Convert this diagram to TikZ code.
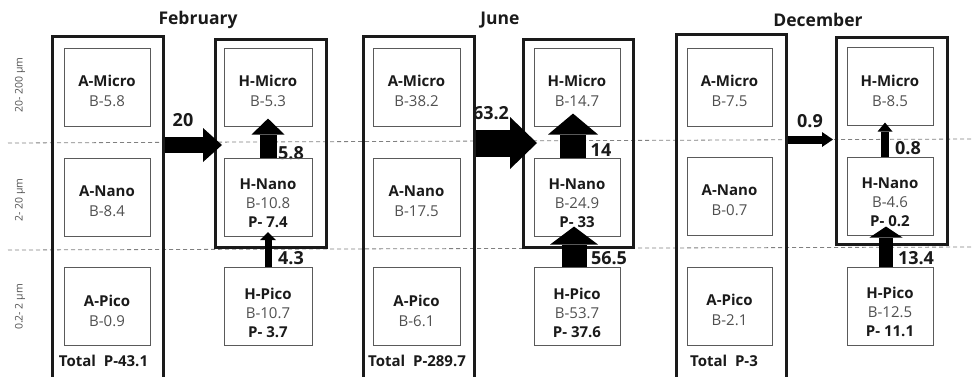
\documentclass[tikz,border=0pt]{standalone}
\usepackage{fontspec}
\setmainfont{Open Sans}
\usetikzlibrary{arrows.meta,calc}
\definecolor{lgray}{HTML}{505050}
\definecolor{bgray}{HTML}{5A5A5A}
\definecolor{dk}{HTML}{1A1A1A}
\tikzset{
 inbox/.style={draw=bgray, line width=0.9pt, minimum width=87pt, minimum height=78pt, inner sep=0pt},
 txt2/.style={align=center, inner sep=0pt, yshift=-4pt, font=\fontsize{15}{20}\selectfont},
 txt3/.style={align=center, inner sep=0pt, yshift=-6pt, font=\fontsize{15}{19}\selectfont},
 outbox/.style={draw=dk, line width=2.6pt, inner sep=0pt, anchor=north west},
 title/.style={font=\fontsize{17.5}{20}\selectfont\bfseries, text=dk},
 num/.style={fill=white, inner sep=1pt, font=\fontsize{18}{20}\selectfont\bfseries, text=dk},
 axis/.style={rotate=90, font=\fontsize{10.5}{12}\selectfont, text=lgray},
 total/.style={font=\fontsize{15}{17}\selectfont\bfseries, text=dk},
 sep/.style={draw=gray, dash pattern=on 4pt off 3pt, line width=0.8pt},
 flow/.style n args={3}{draw=black, line width=#1pt, -{Triangle[width=#2pt,length=#3pt,line width=0pt]}},
}
\newcommand{\nm}[1]{\textcolor{dk}{\textbf{#1}}}
\newcommand{\bv}[1]{\textcolor{lgray}{#1}}
\newcommand{\tot}[1]{Total\hspace{4pt} #1}
\begin{document}
\begin{tikzpicture}[x=1pt,y=-1pt]
\useasboundingbox (0,0) rectangle (973,376);
% size-class separators
\draw[sep] (8,143) -- (973,139);
\draw[sep] (8,250) -- (973,247);
% axis labels
\node[axis] (ax1) at (20,85) {20- 200 µm};
\node[axis] (ax2) at (20,200) {2- 20 µm};
\node[axis] (ax3) at (20,307) {0.2- 2 µm};
% titles
\node[title] (tF) at (198,20) {February};
\node[title] (tJ) at (500,20) {June};
\node[title] (tD) at (818,20) {December};
% flow labels
\node[num] (fL1) at (183,120) {20};
\node[num] (fL2) at (291,153) {5.8};
\node[num] (fL3) at (291,258) {4.3};
\node[num] (jL1) at (491,113) {63.2};
\node[num] (jL2) at (601,150) {14};
\node[num] (jL3) at (609,258) {56.5};
\node[num] (dL1) at (810,121) {0.9};
\node[num] (dL2) at (908,148) {0.8};
\node[num] (dL3) at (916,258) {13.4};
% ---------- February ----------
\node[outbox, minimum width=111pt, minimum height=360pt] (fA) at (51,35) {};
\node[outbox, minimum width=111pt, minimum height=208pt] (fH) at (214,38) {};
\node[inbox, minimum width=86pt] (fAm) at (107,87) {};
\node[inbox, minimum width=86pt] (fAn) at (107,197) {};
\node[inbox, minimum width=86pt] (fAp) at (107,306.5) {};
\node[inbox, minimum width=88pt] (fHm) at (268,87) {};
\node[inbox, minimum width=88pt] (fHn) at (268,197) {};
\node[inbox, minimum width=88pt] (fHp) at (268,306.5) {};
\node[txt2] (fAmT) at (fAm) {\nm{A-Micro}\\\bv{B-5.8}};
\node[txt2] (fAnT) at (fAn) {\nm{A-Nano}\\\bv{B-8.4}};
\node[txt2] (fApT) at (fAp) {\nm{A-Pico}\\\bv{B-0.9}};
\node[txt2] (fHmT) at (fHm) {\nm{H-Micro}\\\bv{B-5.3}};
\node[txt3] (fHnT) at (fHn) {\nm{H-Nano}\\\bv{B-10.8}\\\nm{P- 7.4}};
\node[txt3] (fHpT) at (fHp) {\nm{H-Pico}\\\bv{B-10.7}\\\nm{P- 3.7}};
\node[total] (fT) at (103.5,361) {\tot{P-43.1}};
% ---------- June ----------
\node[outbox, minimum width=111pt, minimum height=360pt] (jA) at (362,35) {};
\node[outbox, minimum width=110pt, minimum height=208pt] (jH) at (522,38) {};
\node[inbox] (jAm) at (416.5,87) {};
\node[inbox] (jAn) at (416.5,197) {};
\node[inbox] (jAp) at (416.5,306.5) {};
\node[inbox, minimum width=86pt] (jHm) at (577,87) {};
\node[inbox, minimum width=86pt] (jHn) at (577,197) {};
\node[inbox, minimum width=86pt] (jHp) at (577,306.5) {};
\node[txt2] (jAmT) at (jAm) {\nm{A-Micro}\\\bv{B-38.2}};
\node[txt2] (jAnT) at (jAn) {\nm{A-Nano}\\\bv{B-17.5}};
\node[txt2] (jApT) at (jAp) {\nm{A-Pico}\\\bv{B-6.1}};
\node[txt2] (jHmT) at (jHm) {\nm{H-Micro}\\\bv{B-14.7}};
\node[txt3] (jHnT) at (jHn) {\nm{H-Nano}\\\bv{B-24.9}\\\nm{P- 33}};
\node[txt3] (jHpT) at (jHp) {\nm{H-Pico}\\\bv{B-53.7}\\\nm{P- 37.6}};
\node[total] (jT) at (417,361) {\tot{P-289.7}};
% ---------- December ----------
\node[outbox, minimum width=110pt, minimum height=360pt] (dA) at (675,33) {};
\node[outbox, minimum width=111pt, minimum height=207pt] (dH) at (835,36) {};
\node[inbox, minimum width=85pt] (dAm) at (729.5,87) {};
\node[inbox, minimum width=85pt] (dAn) at (729.5,196) {};
\node[inbox, minimum width=85pt] (dAp) at (729.5,306) {};
\node[inbox, minimum width=86pt] (dHm) at (890,86.5) {};
\node[inbox, minimum width=86pt] (dHn) at (890,196) {};
\node[inbox, minimum width=86pt] (dHp) at (890,306) {};
\node[txt2] (dAmT) at (dAm) {\nm{A-Micro}\\\bv{B-7.5}};
\node[txt2] (dAnT) at (dAn) {\nm{A-Nano}\\\bv{B-0.7}};
\node[txt2] (dApT) at (dAp) {\nm{A-Pico}\\\bv{B-2.1}};
\node[txt2] (dHmT) at (dHm) {\nm{H-Micro}\\\bv{B-8.5}};
\node[txt3] (dHnT) at (dHn) {\nm{H-Nano}\\\bv{B-4.6}\\\nm{P- 0.2}};
\node[txt3] (dHpT) at (dHp) {\nm{H-Pico}\\\bv{B-12.5}\\\nm{P- 11.1}};
\node[total] (dT) at (724,361) {\tot{P-3}};
% ---------- flows ----------
\coordinate (fTip) at (222,145);
\draw[flow={16}{34}{19}] (fA.east |- fTip) -- (fTip);
\draw[flow={17}{33}{16}] (fHn.north) -- ($(fHn.north)+(0,-39)$);
\draw[flow={7}{16}{8}] (fHp.north) -- ($(fHp.north)+(0,-35)$);
\coordinate (jTip) at (537,143);
\draw[flow={27}{52}{27}] (jA.east |- jTip) -- (jTip);
\draw[flow={26}{50}{21}] ($(jHn.north)+(-4,0)$) -- ($(jHn.north)+(-4,-44)$);
\draw[flow={25}{48}{18}] ($(jHp.north)+(-3,0)$) -- ($(jHp.north)+(-3,-40.5)$);
\coordinate (dTip) at (833,139.5);
\draw[flow={8}{15}{11}] (dA.east |- dTip) -- (dTip);
\draw[flow={8}{15}{9}] ($(dHn.north)+(-5,0)$) -- ($(dHn.north)+(-5,-34)$);
\draw[flow={14}{33}{11}] ($(dHp.north)+(-4,0)$) -- ($(dHp.north)+(-4,-40)$);
\end{tikzpicture}
\end{document}
